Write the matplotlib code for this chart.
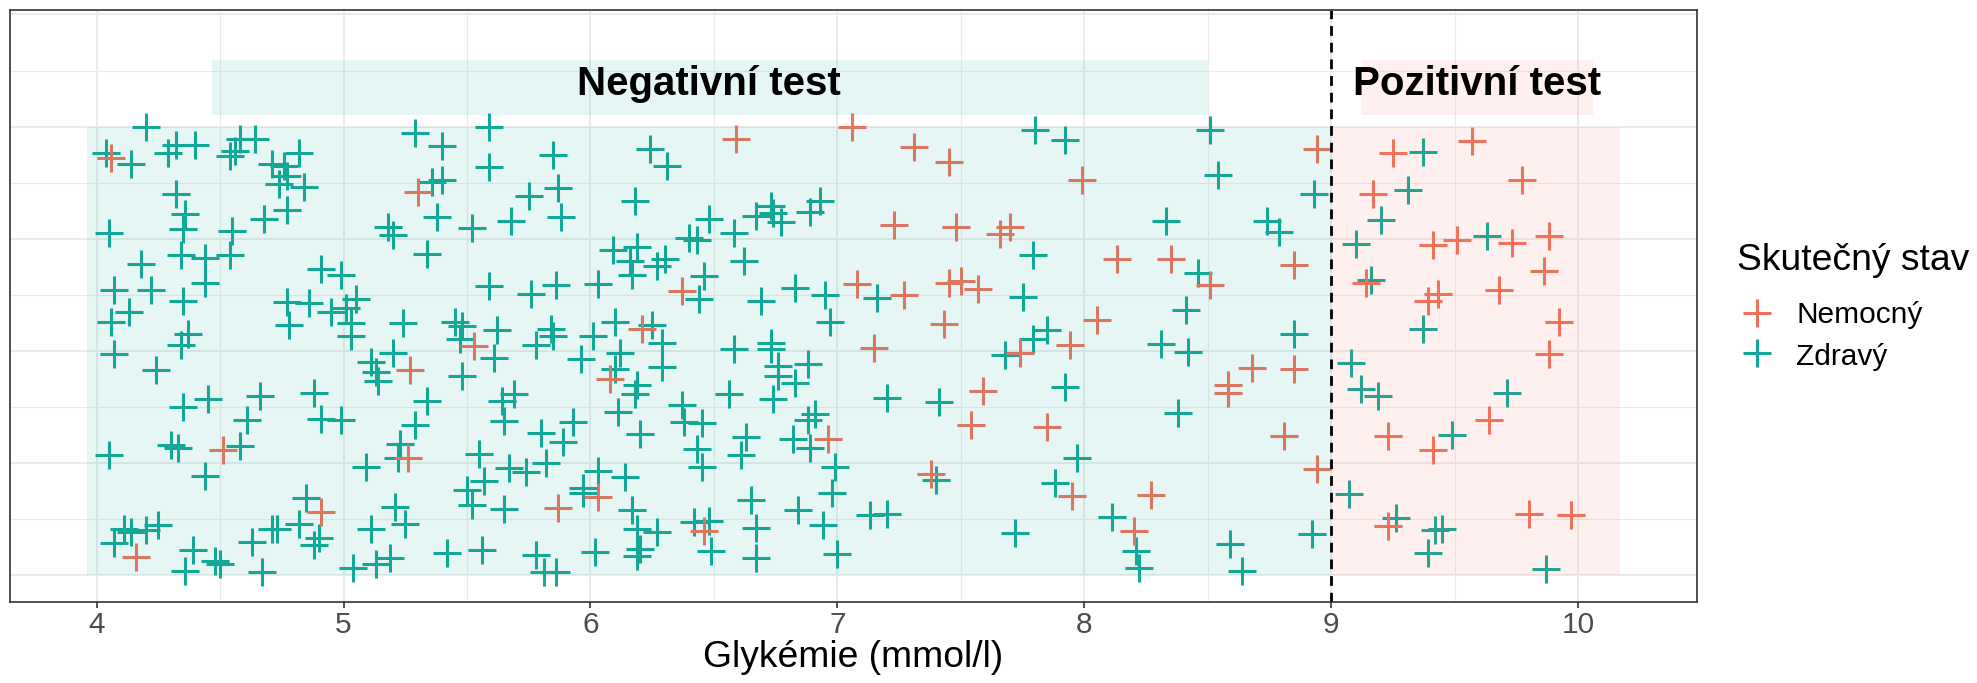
import matplotlib
matplotlib.use("Agg")
import matplotlib.pyplot as plt
from matplotlib.patches import Rectangle
from matplotlib.lines import Line2D

plt.rcParams["font.family"] = ["Liberation Sans", "DejaVu Sans"]

TEAL = "#12A797"
RED = "#F1725A"

# test cut-off (mmol/l) and data extent covered by the shaded areas
THRESHOLD = 9.0
X_MIN, X_MAX = 3.96, 10.17

# healthy people: glycaemia and vertical jitter
zdravy_glyk = [
    4.20, 4.04, 4.14, 4.32, 4.29, 4.40, 4.58, 4.64, 4.56, 4.54,
    4.82, 4.71, 4.76, 4.84, 4.74, 4.77, 4.32, 4.36, 4.35, 4.05,
    4.55, 4.68, 4.77, 4.34, 4.44, 4.54, 4.44, 4.18, 4.07, 4.22,
    4.35, 4.13, 4.91, 4.99, 4.77, 4.86, 4.95, 5.01, 5.05, 5.29,
    5.40, 5.36, 5.40, 5.38, 5.18, 5.20, 5.34,
    5.59, 5.59, 5.85, 5.75, 5.87, 5.52, 5.68, 5.88, 6.24, 6.31,
    6.18, 6.48, 6.58, 6.67, 6.73, 6.77, 6.74, 6.93, 6.89, 6.40,
    6.43, 6.62, 6.09, 6.19, 6.16, 6.17, 6.30, 6.27, 6.46, 6.44,
    5.59, 5.76, 5.86, 6.03, 6.69, 6.83, 6.95, 7.16,
    7.80, 7.92, 8.51, 8.54, 8.93, 7.79, 8.33, 8.74, 8.79, 8.46, 7.75, 8.41,
    9.37, 9.31, 9.20, 9.10, 9.63, 9.16, 9.37,
    8.85, 8.92, 9.08, 9.12, 9.19, 9.07, 9.49, 9.71, 9.26, 9.42, 9.45, 9.39, 9.87,
    7.20, 7.41, 7.68, 7.79, 7.85, 7.92, 7.97, 7.88, 7.40, 7.13,
    7.20, 7.72, 8.11, 8.21, 8.22, 8.31, 8.42, 8.38, 8.59, 8.64,
    5.45, 5.48, 5.47, 5.62, 5.61, 5.48, 5.78, 5.84, 5.85, 5.96,
    6.01, 6.10, 6.25, 6.29, 6.29, 6.12, 6.10, 6.19, 6.18, 6.11,
    6.20, 5.69, 5.64, 5.65, 5.34, 5.93, 5.80, 5.89, 5.55, 5.67,
    5.74, 5.82, 5.57, 5.50, 5.52, 5.65, 5.97, 5.97, 6.03, 6.14,
    6.17, 6.19, 6.27, 6.20, 6.19, 5.42, 5.56, 5.78, 5.81, 5.86,
    6.02, 6.37, 6.38, 6.45, 6.43, 6.45, 6.58, 6.73, 6.73, 6.76,
    6.76, 6.88, 6.83, 6.56, 6.74, 6.91, 6.88, 6.82, 6.89, 6.63,
    6.61, 6.99, 6.98, 6.65, 6.84, 6.94, 6.42, 6.48, 6.49, 6.67,
    6.67, 7.00, 6.97,
    4.06, 4.37, 4.34, 4.07, 4.24, 4.78, 5.03, 5.03, 5.24, 5.20,
    5.11, 5.13, 5.14, 5.29, 5.23, 5.22, 5.09, 4.35, 4.45, 4.66,
    4.61, 4.88, 4.91, 4.99, 4.05, 4.30, 4.33, 4.58, 4.44, 4.85,
    4.82, 4.90, 4.88, 4.71, 4.73, 4.63, 4.67, 4.39, 4.36, 4.48,
    4.50, 4.11, 4.14, 4.20, 4.25, 4.07, 5.21, 5.25, 5.11, 5.04,
    5.13, 5.19,
]
zdravy_jit = [
    1.000, 0.940, 0.916, 0.958, 0.941, 0.958, 0.973, 0.973, 0.945, 0.934,
    0.940, 0.916, 0.912, 0.866, 0.871, 0.889, 0.849, 0.804, 0.771, 0.763,
    0.768, 0.793, 0.813, 0.713, 0.708, 0.713, 0.652, 0.693, 0.635, 0.635,
    0.612, 0.586, 0.683, 0.668, 0.609, 0.607, 0.586, 0.596, 0.616, 0.986,
    0.956, 0.876, 0.882, 0.799, 0.776, 0.759, 0.715,
    1.000, 0.909, 0.936, 0.845, 0.863, 0.774, 0.789, 0.799, 0.949, 0.912,
    0.834, 0.795, 0.763, 0.801, 0.823, 0.787, 0.808, 0.835, 0.810, 0.752,
    0.748, 0.700, 0.725, 0.732, 0.700, 0.670, 0.704, 0.689, 0.667, 0.616,
    0.644, 0.626, 0.646, 0.650, 0.612, 0.639, 0.624, 0.618,
    0.993, 0.969, 0.993, 0.892, 0.850, 0.713, 0.789, 0.789, 0.765, 0.673, 0.620, 0.590,
    0.943, 0.858, 0.791, 0.739, 0.757, 0.658, 0.549,
    0.537, 0.091, 0.472, 0.414, 0.399, 0.180, 0.312, 0.405, 0.128, 0.100, 0.102, 0.050, 0.013,
    0.394, 0.386, 0.491, 0.527, 0.546, 0.420, 0.260, 0.206, 0.212, 0.134,
    0.137, 0.094, 0.130, 0.053, 0.015, 0.516, 0.498, 0.362, 0.069, 0.008,
    0.565, 0.555, 0.526, 0.546, 0.483, 0.444, 0.512, 0.549, 0.532, 0.481,
    0.533, 0.565, 0.557, 0.517, 0.463, 0.496, 0.459, 0.423, 0.403, 0.364,
    0.314, 0.403, 0.388, 0.344, 0.388, 0.342, 0.316, 0.297, 0.271, 0.238,
    0.229, 0.249, 0.210, 0.190, 0.157, 0.147, 0.184, 0.195, 0.231, 0.218,
    0.145, 0.102, 0.097, 0.059, 0.042, 0.049, 0.056, 0.045, 0.006, 0.006,
    0.051, 0.379, 0.342, 0.339, 0.282, 0.240, 0.503, 0.518, 0.505, 0.466,
    0.445, 0.471, 0.429, 0.403, 0.392, 0.360, 0.346, 0.304, 0.283, 0.308,
    0.267, 0.240, 0.183, 0.168, 0.145, 0.111, 0.119, 0.121, 0.054, 0.104,
    0.037, 0.047, 0.565,
    0.564, 0.537, 0.512, 0.494, 0.457, 0.557, 0.563, 0.533, 0.561, 0.496,
    0.474, 0.452, 0.433, 0.334, 0.293, 0.260, 0.241, 0.375, 0.392, 0.399,
    0.346, 0.405, 0.349, 0.346, 0.267, 0.290, 0.283, 0.287, 0.221, 0.171,
    0.115, 0.082, 0.067, 0.102, 0.102, 0.073, 0.006, 0.056, 0.008, 0.032,
    0.024, 0.102, 0.095, 0.100, 0.112, 0.071, 0.151, 0.115, 0.102, 0.015,
    0.024, 0.039,
]

# sick people
nemocny_glyk = [
    4.06, 5.30,
    6.59, 7.06, 6.37, 7.08,
    7.31, 7.45, 7.99, 8.94, 7.23, 7.48, 7.70, 7.66, 8.13, 8.35,
    8.51, 8.85, 7.27, 7.45, 7.50, 7.57, 8.05,
    9.25, 9.57, 9.77, 9.17, 9.41, 9.51, 9.73, 9.88, 9.86, 9.68, 9.14, 9.39, 9.43, 9.92,
    8.85, 8.81, 8.94, 9.23, 9.41, 9.64, 9.88, 9.23, 9.80, 9.97,
    7.43, 7.15, 7.59, 7.54, 7.74, 7.94, 7.85, 7.95, 7.38, 8.27, 8.20, 8.58, 8.58, 8.68,
    5.53, 6.21, 6.08, 5.87, 6.03, 6.96, 6.46,
    5.27, 5.26, 4.51, 4.91, 4.16,
]
nemocny_jit = [
    0.930, 0.855,
    0.973, 0.998, 0.633, 0.648,
    0.954, 0.921, 0.881, 0.949, 0.780, 0.776, 0.775, 0.761, 0.705, 0.705,
    0.646, 0.691, 0.624, 0.652, 0.655, 0.637, 0.569,
    0.941, 0.968, 0.880, 0.849, 0.736, 0.748, 0.741, 0.756, 0.679, 0.635, 0.652, 0.612, 0.627, 0.564,
    0.459, 0.309, 0.236, 0.310, 0.279, 0.346, 0.494, 0.110, 0.136, 0.134,
    0.559, 0.507, 0.410, 0.335, 0.496, 0.512, 0.331, 0.177, 0.226, 0.178, 0.099, 0.423, 0.405, 0.461,
    0.511, 0.549, 0.438, 0.149, 0.173, 0.304, 0.099,
    0.457, 0.260, 0.278, 0.140, 0.041,
]

assert len(zdravy_glyk) == len(zdravy_jit)
assert len(nemocny_glyk) == len(nemocny_jit)

x_ticks = [4, 5, 6, 7, 8, 9, 10]

BASE = 26.8
SMALL = 21.5

fig = plt.figure(figsize=(19.77, 6.83), dpi=100)
ax = fig.add_axes([0.00506, 0.1186, 0.8533, 0.8668])

# points first, shaded areas go on top (as in the original ggplot)
ax.scatter(zdravy_glyk, zdravy_jit, marker="+", s=405, linewidths=2.2,
           color=TEAL, zorder=2)
ax.scatter(nemocny_glyk, nemocny_jit, marker="+", s=405, linewidths=2.2,
           color=RED, zorder=2)

ax.add_patch(Rectangle((X_MIN, 0), THRESHOLD - X_MIN, 1, facecolor=TEAL,
                       alpha=0.1, edgecolor="none", zorder=3))
ax.add_patch(Rectangle((THRESHOLD, 0), X_MAX - THRESHOLD, 1, facecolor=RED,
                       alpha=0.1, edgecolor="none", zorder=3))

# label boxes
ax.add_patch(Rectangle((4.466, 1.025), 8.50 - 4.466, 0.124, facecolor=TEAL,
                       alpha=0.1, edgecolor="none", zorder=3))
ax.add_patch(Rectangle((9.12, 1.025), 10.06 - 9.12, 0.124, facecolor=RED,
                       alpha=0.1, edgecolor="none", zorder=3))
ax.text(6.48, 1.071, "Negativní test", ha="center", va="baseline",
        fontsize=29, fontweight="bold", zorder=5)
ax.text(9.59, 1.071, "Pozitivní test", ha="center", va="baseline",
        fontsize=29, fontweight="bold", zorder=5)

ax.axvline(THRESHOLD, color="black", linestyle=(0, (3.5, 2.5)), linewidth=2.0,
           zorder=4)

# limits with ggplot-like 5 % expansion
span = X_MAX - X_MIN
ax.set_xlim(X_MIN - 0.05 * span, X_MAX + 0.05 * span)
ax.set_ylim(-0.06, 1.26)

# grid
for gx in [4 + 0.5 * i for i in range(13)]:
    lw = 1.4 if gx == int(gx) else 0.8
    ax.axvline(gx, color="#EBEBEB", linewidth=lw, zorder=1)
for i in range(11):
    lw = 1.4 if i % 2 == 0 else 0.8
    ax.axhline(0.125 * i, color="#EBEBEB", linewidth=lw, zorder=1)

ax.set_xticks(x_ticks)
ax.set_xticklabels([str(t) for t in x_ticks])
ax.set_yticks([])
ax.tick_params(axis="x", length=4.5, width=1.2, color="#333333",
               labelsize=SMALL, labelcolor="#4D4D4D", pad=2)
for sp in ax.spines.values():
    sp.set_color("#333333")
    sp.set_linewidth(1.2)
    sp.set_zorder(6)
ax.set_xlabel("Glykémie (mmol/l)", fontsize=BASE, labelpad=1)

# legend, placed by hand like the ggplot guide
fig.text(0.8786, 0.6047, "Skutečný stav", fontsize=BASE, ha="left", va="baseline")
for yy, yb, col, lab in [(0.5417, 0.5266, RED, "Nemocný"),
                         (0.4832, 0.4656, TEAL, "Zdravý")]:
    fig.add_artist(Line2D([0.8887], [yy], marker="+", markersize=20.1,
                          markeredgewidth=2.2, color=col, linestyle="none",
                          transform=fig.transFigure))
    fig.text(0.9085, yb, lab, fontsize=SMALL, ha="left", va="baseline")

fig.savefig("out.png", dpi=100)
